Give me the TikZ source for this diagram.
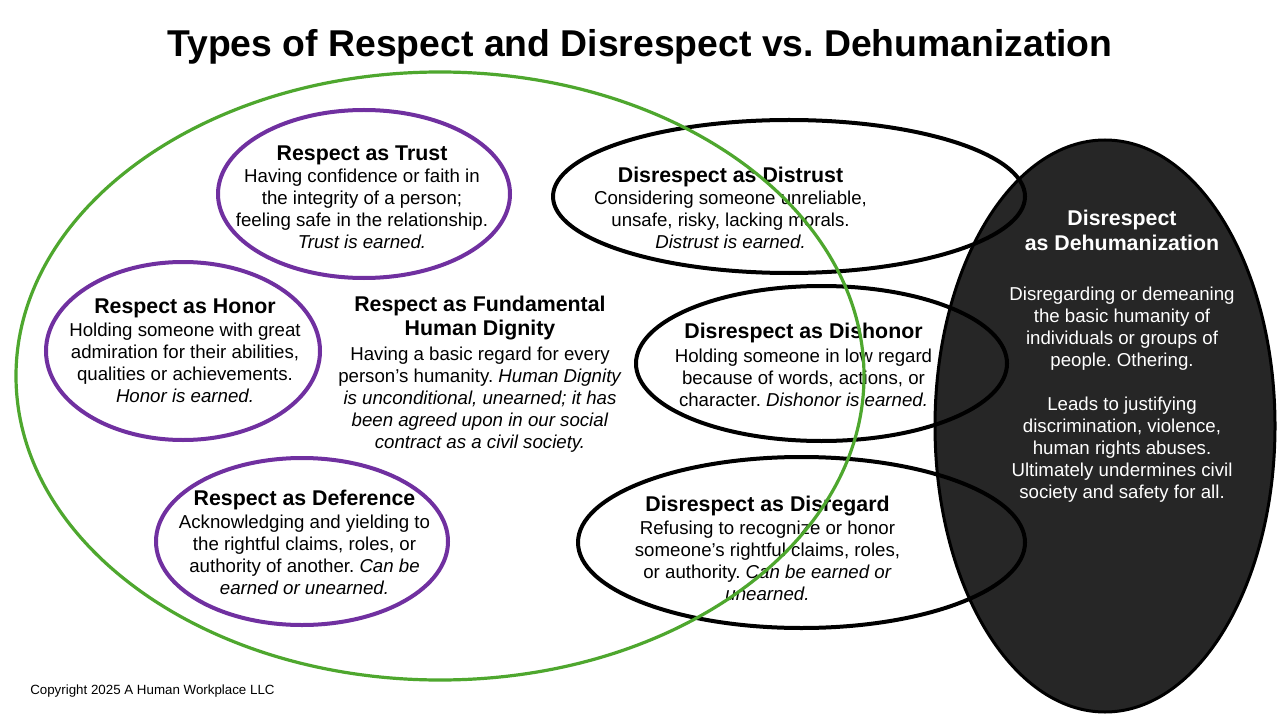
\documentclass[tikz,border=0pt]{standalone}
\usepackage{fontspec}
\setmainfont{Liberation Sans}
\usetikzlibrary{shapes.geometric}
\definecolor{vgreen}{HTML}{4EA72E}
\definecolor{vpurple}{HTML}{7030A0}
\definecolor{vdark}{HTML}{262626}
\frenchspacing
\begin{document}
\frenchspacing
\begin{tikzpicture}[x=0.75pt,y=-0.75pt,
  greenring/.style={draw=vgreen,line width=2.4pt},
  purplering/.style={draw=vpurple,line width=3pt},
  blackring/.style={draw=black,line width=3pt},
  darkring/.style={draw=black,fill=vdark,line width=2.25pt},
  txt/.style={align=center,inner sep=0pt,font=\fontsize{14}{16.5}\selectfont\frenchspacing}]
\useasboundingbox (0,0) rectangle (1280,720);
\fill[white] (0,0) rectangle (1280,720);
% title
\node[anchor=base,inner sep=0pt,font=\fontsize{28}{34}\selectfont\bfseries\frenchspacing] (title) at (640,57) {Types of Respect and Disrespect vs. Dehumanization};
% dark ellipse
\draw[darkring] (1105,426) ellipse [x radius=170,y radius=286];
% purple ellipses
\draw[purplering] (364,194) ellipse [x radius=146,y radius=84];
\draw[purplering] (183,351) ellipse [x radius=137,y radius=89];
\draw[purplering] (302,541.5) ellipse [x radius=146,y radius=83.5];
% black ellipses
\draw[blackring] (789,196.5) ellipse [x radius=236,y radius=76.5];
\draw[blackring] (821.5,363.5) ellipse [x radius=185.5,y radius=77.5];
\draw[blackring] (801.5,542.5) ellipse [x radius=223.5,y radius=85.5];
% texts
\newcommand\hdr[1]{{\fontsize{16}{16.5}\selectfont\bfseries #1}}
\node[txt] (trust) at (362,197) {\hdr{Respect as Trust}\\
Having confidence or faith in\\ the integrity of a person;\\ feeling safe in the relationship.\\ \textit{Trust is earned.}};
\node[txt] (honor) at (185,351) {\hdr{Respect as Honor}\\[0.75pt]
Holding someone with great\\ admiration for their abilities,\\ qualities or achievements.\\ \textit{Honor is earned.}};
\node[txt] (dignity) at (480,374) {\hdr{Respect as Fundamental}\\[1.5pt] \hdr{Human Dignity}\\[2.25pt]
Having a basic regard for every\\ person’s humanity. \textit{Human Dignity}\\ \textit{is unconditional, unearned; it has}\\ \textit{been agreed upon in our social}\\ \textit{contract as a civil society.}};
\node[txt] (deference) at (304.5,542) {\hdr{Respect as Deference}\\[0.75pt]
Acknowledging and yielding to\\ the rightful claims, roles, or\\ authority of another. \textit{Can be}\\ \textit{earned or unearned.}};
\node[txt] (distrust) at (730.5,207.5) {\hdr{Disrespect as Distrust}\\
Considering someone unreliable,\\ unsafe, risky, lacking morals.\\ \textit{Distrust is earned.}};
\node[txt] (dishonor) at (803.5,364.5) {\hdr{Disrespect as Dishonor}\\[1.5pt]
Holding someone in low regard\\ because of words, actions, or\\ character. \textit{Dishonor is earned.}};
\node[txt] (disregard) at (767.5,548) {\hdr{Disrespect as Disregard}\\[0.75pt]
Refusing to recognize or honor\\ someone’s rightful claims, roles,\\ or authority. \textit{Can be earned or}\\ \textit{unearned.}};
\node[txt,text=white] (dehuman) at (1122,356.5) {\hdr{Disrespect}\\[2.25pt] \hdr{as Dehumanization}\\[21pt]
Disregarding or demeaning\\ the basic humanity of\\ individuals or groups of\\ people. Othering.\\[16.5pt]
Leads to justifying\\ discrimination, violence,\\ human rights abuses.\\ Ultimately undermines civil\\ society and safety for all.};
% green ellipse on top
\draw[greenring] (440,376) ellipse [x radius=424,y radius=304];
% copyright
\node[anchor=west,inner sep=0pt,font=\fontsize{10}{12}\selectfont\frenchspacing] (copy) at (30,691) {Copyright 2025 A Human Workplace LLC};
\end{tikzpicture}
\end{document}
